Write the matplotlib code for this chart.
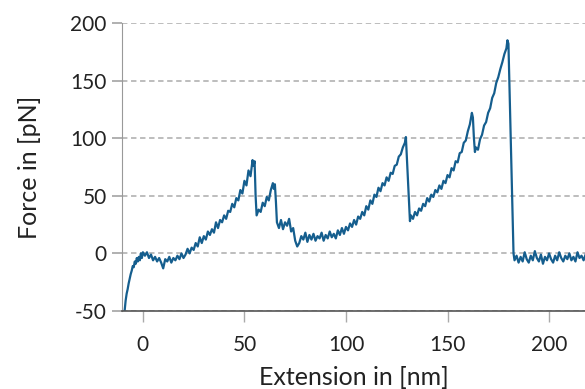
import matplotlib.pyplot as plt

plt.rcParams['font.family'] = ['Lato', 'DejaVu Sans']
plt.rcParams['axes.unicode_minus'] = False

# ---- data (extension in nm, force in pN) ----
# approach / contact part
ext_contact = [-9, -8.5, -8, -7.5, -7, -6.5, -6, -5.5, -5, -4.5, -4, -3.5, -3, -2.5, -2, -1.5, -1, -0.5, 0]
force_contact = [-50, -41, -35, -31, -26, -22, -18, -15, -11, -12, -7, -9, -4, -7, -3, -6, 0, -4, 1]

# flat start and first rise up to the first rupture
ext_rise1 = [1, 2, 3, 4, 5, 6, 7, 8, 9, 10, 11, 12, 13, 14, 15, 16, 17, 18, 19, 20,
             21, 22, 23, 24, 25, 26, 27, 28, 29, 30, 31, 32, 33, 34, 35, 36, 37, 38, 39, 40,
             41, 42, 43, 44, 45, 46, 47, 48, 49, 50, 51, 52, 53, 54, 54.5, 55, 55.5, 56]
force_rise1 = [-2, 1, -4, -1, -6, -3, -7, -4, -8, -13, -5, -7, -3, -8, -4, -6, -2, -5, 0, -4,
               -1, 4, 0, 5, 3, 9, 6, 14, 9, 15, 12, 19, 16, 21, 18, 27, 22, 29, 27, 33,
               30, 37, 36, 43, 40, 48, 46, 55, 52, 63, 59, 72, 67, 81, 76, 80, 50, 33]

# short second peak
ext_rise2 = [57, 58, 59, 60, 61, 62, 63, 64, 64.5, 65, 65.5, 66]
force_rise2 = [38, 36, 44, 41, 49, 46, 55, 61, 56, 60, 45, 27]

# plateau and third peak (~130 nm)
ext_rise3 = [67, 68, 69, 70, 71, 72, 73, 74, 75, 76, 77, 78, 79, 80, 81, 82, 83, 84, 85, 86,
             87, 88, 89, 90, 91, 92, 93, 94, 95, 96, 97, 98, 99, 100, 101, 102, 103, 104, 105, 106,
             107, 108, 109, 110, 111, 112, 113, 114, 115, 116, 117, 118, 119, 120, 121, 122, 123, 124, 125, 126,
             127, 128, 129, 129.5, 131.5]
force_rise3 = [22, 29, 21, 27, 24, 30, 19, 22, 11, 6, 9, 15, 12, 18, 10, 16, 12, 17, 11, 15,
               13, 18, 11, 16, 13, 19, 14, 17, 13, 20, 16, 22, 17, 23, 20, 26, 23, 29, 25, 32,
               30, 36, 33, 41, 38, 46, 43, 51, 49, 57, 54, 61, 59, 66, 63, 70, 69, 76, 77, 84,
               86, 92, 96, 101, 28]

# fourth peak (~162 nm)
ext_rise4 = [132, 133, 134, 135, 136, 137, 138, 139, 140, 141, 142, 143, 144, 145, 146, 147, 148, 149, 150, 151,
             152, 153, 154, 155, 156, 157, 158, 159, 160, 161, 162, 162.5, 163, 163.5]
force_rise4 = [33, 30, 36, 33, 39, 37, 43, 41, 48, 45, 51, 49, 55, 53, 59, 56, 63, 61, 68, 66,
               74, 72, 80, 79, 87, 88, 96, 98, 106, 112, 122, 118, 100, 88]

# last peak (~180 nm) and detachment
ext_rise5 = [164, 165, 166, 167, 168, 169, 170, 171, 172, 173, 174, 175, 176, 177, 178, 179, 179.5, 180, 182.5]
force_rise5 = [92, 90, 99, 103, 111, 114, 122, 126, 135, 139, 148, 153, 160, 166, 173, 178, 185, 182, 0]

# baseline after rupture
ext_free = [183, 184, 185, 186, 187, 188, 189, 190, 191, 192, 193, 194, 195, 196, 197, 198, 199, 200,
            201, 202, 203, 204, 205, 206, 207, 208, 209, 210, 211, 212, 213, 214, 215, 216, 217, 218]
force_free = [-6, -2, -8, -3, -7, 1, -5, -8, -2, -6, 2, -4, -7, -1, -9, -3, -6, 0,
              -5, -8, -2, -6, 1, -4, -7, -2, -5, 0, -6, -3, -7, 1, -4, -2, -6, -1]

ext = ext_contact + ext_rise1 + ext_rise2 + ext_rise3 + ext_rise4 + ext_rise5 + ext_free
force = force_contact + force_rise1 + force_rise2 + force_rise3 + force_rise4 + force_rise5 + force_free

x_ticks = [0, 50, 100, 150, 200]
y_ticks = [-50, 0, 50, 100, 150, 200]

# ---- plot ----
fig = plt.figure(figsize=(5.85, 3.89), dpi=100)
ax = fig.add_axes([0.2085, 0.2005, 0.7915, 0.7404])

ax.plot(ext, force, color='#155e8e', linewidth=1.6, solid_joinstyle='round')

ax.set_xlim(-10.3, 217.7)
ax.set_ylim(-50, 200)
ax.set_xticks(x_ticks)
ax.set_yticks(y_ticks)

ax.yaxis.grid(True, color='#b8b8b8', linestyle=(0, (3, 2)), linewidth=1.3)
ax.set_axisbelow(True)

for side in ['top', 'right']:
    ax.spines[side].set_visible(False)
ax.spines['left'].set_color('#999999')
ax.spines['bottom'].set_color('#555555')
ax.spines['bottom'].set_linewidth(1.2)

ax.tick_params(axis='y', length=7, width=1.3, color='#aaaaaa', pad=4,
               labelsize=15, labelcolor='#222222')
ax.tick_params(axis='x', length=8, width=1.0, color='#aaaaaa', pad=9,
               labelsize=15, labelcolor='#222222')

ax.set_xlabel('Extension in [nm]', fontsize=18, color='#222222', labelpad=8)
ax.set_ylabel('Force in [pN]', fontsize=18, color='#222222', labelpad=21)

fig.savefig('out.png', dpi=100)
